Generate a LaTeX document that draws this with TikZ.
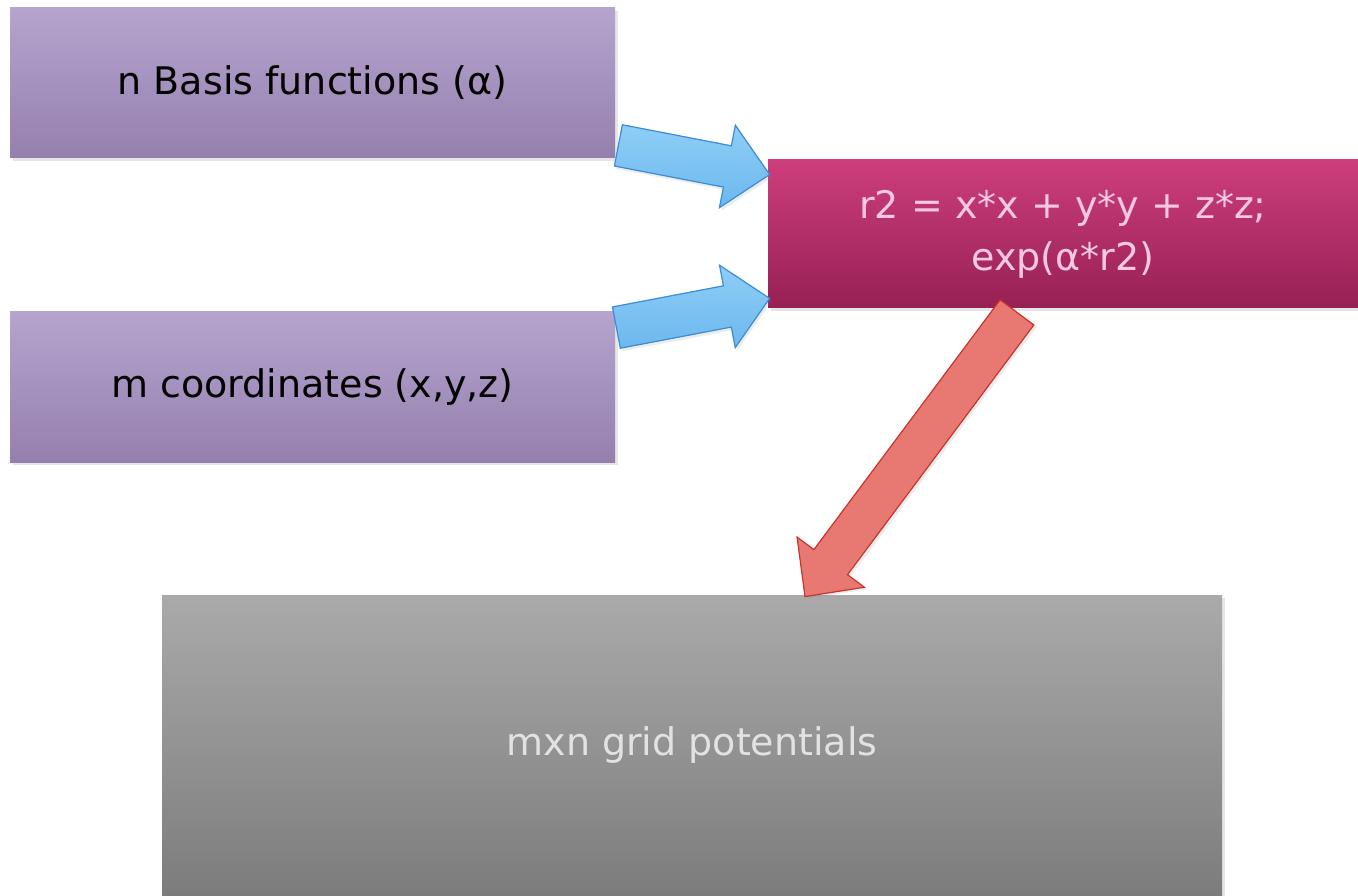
\documentclass[tikz,border=0pt]{standalone}
\usepackage{fontspec}
\setmainfont{DejaVu Sans}
\usetikzlibrary{calc,shadows}
\definecolor{purptop}{RGB}{181,164,206}
\definecolor{purpbot}{RGB}{149,127,174}
\definecolor{magtop}{RGB}{205,62,124}
\definecolor{magbot}{RGB}{150,32,84}
\definecolor{greytop}{RGB}{170,170,170}
\definecolor{greybot}{RGB}{124,124,124}
\definecolor{arrbluebot}{RGB}{108,184,238}
\definecolor{arrbluetop}{RGB}{142,206,246}
\definecolor{arrblueline}{RGB}{58,140,212}
\definecolor{arrred}{RGB}{232,120,114}
\definecolor{arrredline}{RGB}{200,52,44}
\definecolor{pinktext}{RGB}{246,200,226}
\definecolor{greytext}{RGB}{226,226,226}

% block arrow from #2 to #3 (tip at #3)
\newcommand{\blockarr}[3][]{%
  \coordinate (hb) at ($(#3)!21.5pt!(#2)$);
  \draw[#1] ($(#2)!10.5pt!90:(#3)$) -- ($(hb)!10.5pt!90:(#3)$) -- ($(hb)!21pt!90:(#3)$) -- (#3)
    -- ($(hb)!21pt!-90:(#3)$) -- ($(hb)!10.5pt!-90:(#3)$) -- ($(#2)!10.5pt!-90:(#3)$) -- cycle;}

\begin{document}
\begin{tikzpicture}[
  x=0.5pt, y=0.5pt,
  font=\fontsize{19}{26}\selectfont,
  box/.style={rectangle, inner sep=0pt, align=center,
    drop shadow={shadow xshift=1.5pt, shadow yshift=-1.5pt, opacity=.2}},
  blue/.style={line width=0.6pt, line join=miter, draw=arrblueline, top color=arrbluetop, bottom color=arrbluebot,
    drop shadow={shadow xshift=1pt, shadow yshift=-1.5pt, opacity=.15}},
  red/.style={line width=0.6pt, line join=miter, draw=arrredline, fill=arrred,
    drop shadow={shadow xshift=1.5pt, shadow yshift=-1pt, opacity=.15}}
]
\useasboundingbox (0,0) rectangle (1358,895);
\node[box, minimum width=302.5pt, minimum height=75pt, top color=purptop, bottom color=purpbot] at (312.5,812) (basis) {n Basis functions (α)};
\node[box, minimum width=302.5pt, minimum height=75pt, top color=purptop, bottom color=purpbot] at (312.5,508) (coords) {m coordinates (x,y,z)};
\node[box, minimum width=295pt, minimum height=74pt, top color=magtop, bottom color=magbot, text=pinktext] at (1063,661) (kernel) {r2 = x*x + y*y + z*z;\\exp(α*r2)};
\node[box, minimum width=530pt, minimum height=150pt, top color=greytop, bottom color=greybot, text=greytext] at (692,150) (grid) {mxn grid potentials};
% arrow ends
\coordinate (b1s) at ([xshift=1.5pt, yshift=6.5pt]basis.south east);
\coordinate (b1e) at ([xshift=1pt, yshift=-7.5pt]kernel.north west);
\coordinate (b2s) at ([xshift=.5pt, yshift=-8pt]coords.north east);
\coordinate (b2e) at ([xshift=1pt, yshift=5pt]kernel.south west);
\coordinate (r1s) at ([xshift=-23pt, yshift=-2pt]kernel.south);
\coordinate (r1e) at ([xshift=56.5pt, yshift=-1pt]grid.north);
\blockarr[blue]{b1s}{b1e}
\blockarr[blue]{b2s}{b2e}
\blockarr[red]{r1s}{r1e}
\end{tikzpicture}
\end{document}
